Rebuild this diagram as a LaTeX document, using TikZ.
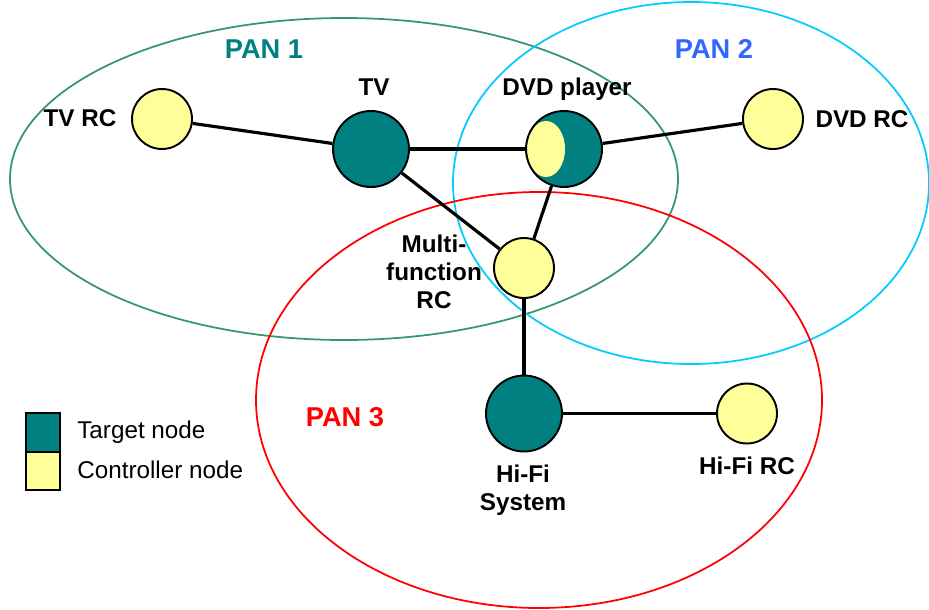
\documentclass[tikz,border=0pt]{standalone}
\usepackage{fontspec}
\setmainfont{Liberation Sans}
\usepackage{tikz}
\usetikzlibrary{positioning}
\definecolor{tealnode}{HTML}{008080}
\definecolor{ctrlyellow}{HTML}{FFFF99}
\definecolor{pangreen}{HTML}{339966}
\definecolor{pancyan}{HTML}{00CCFF}
\definecolor{panblue}{HTML}{3366FF}
\definecolor{panred}{HTML}{FF0000}
\tikzset{
	target/.style = {
		circle,
		draw = black,
		line width = 1.1pt,
		fill = tealnode,
		minimum size = 1.52cm,
		inner sep = 0pt
	},
	controller/.style = {
		circle,
		draw = black,
		line width = 1.1pt,
		fill = ctrlyellow,
		minimum size = 1.2cm,
		inner sep = 0pt
	},
	link/.style = {
		line width = 1.8pt,
		black
	},
	pan/.style = {
		line width = 1pt
	},
	devlabel/.style = {
		font = \bfseries\fontsize{13.8}{15.8}\selectfont,
		align = center,
		inner sep = 0pt
	},
	panlabel/.style = {
		font = \bfseries\fontsize{15.5}{18}\selectfont,
		inner sep = 0pt,
		anchor = base
	},
	legbox/.style = {
		rectangle,
		draw = black,
		line width = 1.1pt,
		minimum width = 0.68cm,
		minimum height = 0.77cm,
		inner sep = 0pt,
		outer sep = 0pt
	},
	legtext/.style = {
		anchor = west,
		inner sep = 0pt,
		font = \fontsize{13.8}{15}\selectfont
	}
}

\begin{document}
\begin{tikzpicture}[x=0.02cm, y=-0.02cm]
		\useasboundingbox (0,0) rectangle (929,609);
		% areas
		\draw[pan, pangreen] (344,179) ellipse [x radius=334, y radius=161];
		\draw[pan, pancyan] (691,183) ellipse [x radius=238, y radius=181];
		\draw[pan, panred] (539,400) ellipse [x radius=283, y radius=208];
		\node[panlabel, tealnode] (pan1) at (264,58) {PAN 1};
		\node[panlabel, panblue] (pan2) at (714,58) {PAN 2};
		\node[panlabel, panred] (pan3) at (345,426) {PAN 3};
		
		% devices
		\node[controller] (tvrc) at (162,119) {};
		\node[target] (tv) at (371,149) {};
		\node[target, path picture={
			\fill[ctrlyellow] ([xshift=-0.36cm]path picture bounding box.center)
				ellipse [x radius=0.38cm, y radius=0.56cm];
		}] (dvd) at (564,149) {};
		\node[controller] (dvdrc) at (773,119) {};
		\node[controller] (multirc) at (524,268) {};
		\node[target] (hifi) at (524,413.5) {};
		\node[controller] (hifirc) at (747,413.5) {};
		
		\draw[link] (tvrc) -- (tv);
		\draw[link] (tv) -- (dvd);
		\draw[link] (dvd) -- (dvdrc);
		\draw[link] (tv) -- (multirc);
		\draw[link] (dvd) -- (multirc);
		\draw[link] (multirc) -- (hifi);
		\draw[link] (hifi) -- (hifirc);
		
		\node[devlabel, anchor=base] (tvrclbl) at (80,126) {TV RC};
		\node[devlabel, anchor=base] (tvlbl) at (374,95) {TV};
		\node[devlabel, anchor=base] (dvdlbl) at (567,95) {DVD player};
		\node[devlabel, anchor=base] (dvdrclbl) at (862,127) {DVD RC};
		\node[devlabel] (multilbl) at (434,272) {Multi-\\function\\RC};
		\node[devlabel] (hifilbl) at (523,490) {Hi-Fi\\System};
		\node[devlabel, anchor=base] (hifirclbl) at (747,474) {Hi-Fi RC};
		
		% legend
		\node[legbox, fill=tealnode] (legtarget) at (43,432.5) {};
		\node[legbox, fill=ctrlyellow, below=0pt of legtarget] (legctrl) {};
		\node[legtext] (legtargetlbl) at (77,432) {Target node};
		\node[legtext] (legctrllbl) at (77,470) {Controller node};
	\end{tikzpicture}
\end{document}
